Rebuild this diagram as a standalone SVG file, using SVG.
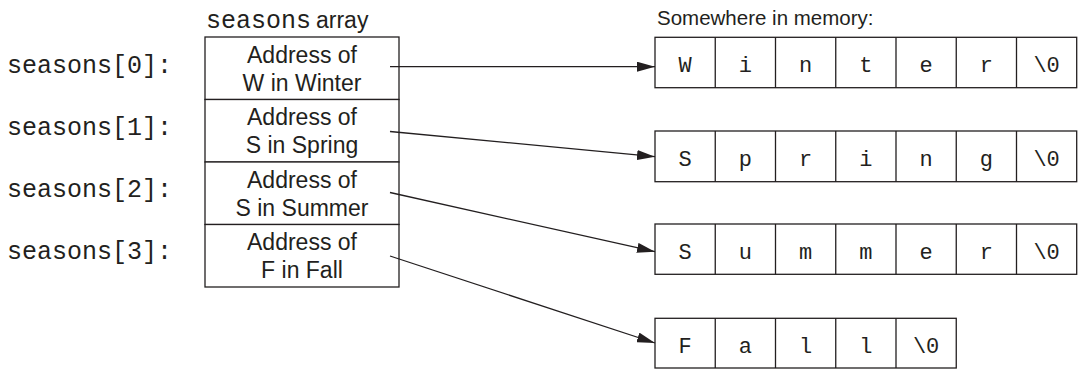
<svg xmlns="http://www.w3.org/2000/svg" width="1082" height="369" viewBox="0 0 1082 369">
<style>
  .mono { font-family: "Liberation Mono", "DejaVu Sans Mono", monospace; fill: #231f20; }
  .sans { font-family: "Liberation Sans", Arial, sans-serif; fill: #231f20; }
  .lbl { font-size: 25px; }
  .cell { font-size: 23px; text-anchor: middle; }
  .ch { font-size: 22px; text-anchor: middle; }
  .box { fill: #fff; stroke: #231f20; stroke-width: 1.3; }
  .conn { stroke: #231f20; stroke-width: 1.3; fill: none; marker-end: url(#arr); }
</style>
<defs>
  <marker id="arr" markerUnits="userSpaceOnUse" markerWidth="18" markerHeight="10" refX="18" refY="5" orient="auto">
    <path d="M0,0 L18,5 L0,10 z" fill="#231f20"/>
  </marker>
</defs>
<rect width="1082" height="369" fill="#fff"/>

<g id="title">
  <text class="mono lbl" x="206" y="28">seasons</text>
  <text class="sans" font-size="23" x="316" y="28">array</text>
</g>
<g id="mem-title">
  <text class="sans" font-size="20.5" x="657" y="25">Somewhere in memory:</text>
</g>

<g id="labels">
  <text class="mono lbl" x="7" y="72.7">seasons[0]:</text>
  <text class="mono lbl" x="7" y="135">seasons[1]:</text>
  <text class="mono lbl" x="7" y="197">seasons[2]:</text>
  <text class="mono lbl" x="7" y="259.3">seasons[3]:</text>
</g>

<g id="arr0">
  <rect class="box" x="205" y="37" width="194" height="62.5"/>
  <text class="sans cell" x="302" y="62.7">Address of</text>
  <text class="sans cell" x="302" y="90.5">W in Winter</text>
</g>
<g id="arr1">
  <rect class="box" x="205" y="99.5" width="194" height="62.5"/>
  <text class="sans cell" x="302" y="125.2">Address of</text>
  <text class="sans cell" x="302" y="153">S in Spring</text>
</g>
<g id="arr2">
  <rect class="box" x="205" y="162" width="194" height="62.5"/>
  <text class="sans cell" x="302" y="187.7">Address of</text>
  <text class="sans cell" x="302" y="215.5">S in Summer</text>
</g>
<g id="arr3">
  <rect class="box" x="205" y="224.5" width="194" height="62.5"/>
  <text class="sans cell" x="302" y="250.2">Address of</text>
  <text class="sans cell" x="302" y="278">F in Fall</text>
</g>

<g id="winter">
  <rect class="box" x="655" y="37.3" width="421.7" height="50.4"/>
  <path d="M715.25,37.3V87.7M775.5,37.3V87.7M835.75,37.3V87.7M896,37.3V87.7M956.25,37.3V87.7M1016.5,37.3V87.7" stroke="#231f20" stroke-width="1.3"/>
  <text class="mono ch" y="71.5"><tspan x="685.1">W</tspan><tspan x="745.4">i</tspan><tspan x="805.6">n</tspan><tspan x="865.9">t</tspan><tspan x="926.1">e</tspan><tspan x="986.4">r</tspan><tspan x="1046.6">\0</tspan></text>
</g>
<g id="spring">
  <rect class="box" x="655" y="131" width="421.7" height="50.7"/>
  <path d="M715.25,131V181.7M775.5,131V181.7M835.75,131V181.7M896,131V181.7M956.25,131V181.7M1016.5,131V181.7" stroke="#231f20" stroke-width="1.3"/>
  <text class="mono ch" y="166.2"><tspan x="685.1">S</tspan><tspan x="745.4">p</tspan><tspan x="805.6">r</tspan><tspan x="865.9">i</tspan><tspan x="926.1">n</tspan><tspan x="986.4">g</tspan><tspan x="1046.6">\0</tspan></text>
</g>
<g id="summer">
  <rect class="box" x="655" y="224" width="421.7" height="50.3"/>
  <path d="M715.25,224V274.3M775.5,224V274.3M835.75,224V274.3M896,224V274.3M956.25,224V274.3M1016.5,224V274.3" stroke="#231f20" stroke-width="1.3"/>
  <text class="mono ch" y="259"><tspan x="685.1">S</tspan><tspan x="745.4">u</tspan><tspan x="805.6">m</tspan><tspan x="865.9">m</tspan><tspan x="926.1">e</tspan><tspan x="986.4">r</tspan><tspan x="1046.6">\0</tspan></text>
</g>
<g id="fall">
  <rect class="box" x="655" y="318.3" width="301.25" height="49.7"/>
  <path d="M715.25,318.3V368M775.5,318.3V368M835.75,318.3V368M896,318.3V368" stroke="#231f20" stroke-width="1.3"/>
  <text class="mono ch" y="352.8"><tspan x="685.1">F</tspan><tspan x="745.4">a</tspan><tspan x="805.6">l</tspan><tspan x="865.9">l</tspan><tspan x="926.1">\0</tspan></text>
</g>

<g id="connectors">
  <line class="conn" x1="390" y1="66.7" x2="655" y2="66.7"/>
  <line class="conn" x1="390" y1="131.5" x2="655" y2="156.7"/>
  <line class="conn" x1="390" y1="192.5" x2="655" y2="251.7"/>
  <line class="conn" x1="390" y1="256" x2="655" y2="343"/>
</g>
</svg>
